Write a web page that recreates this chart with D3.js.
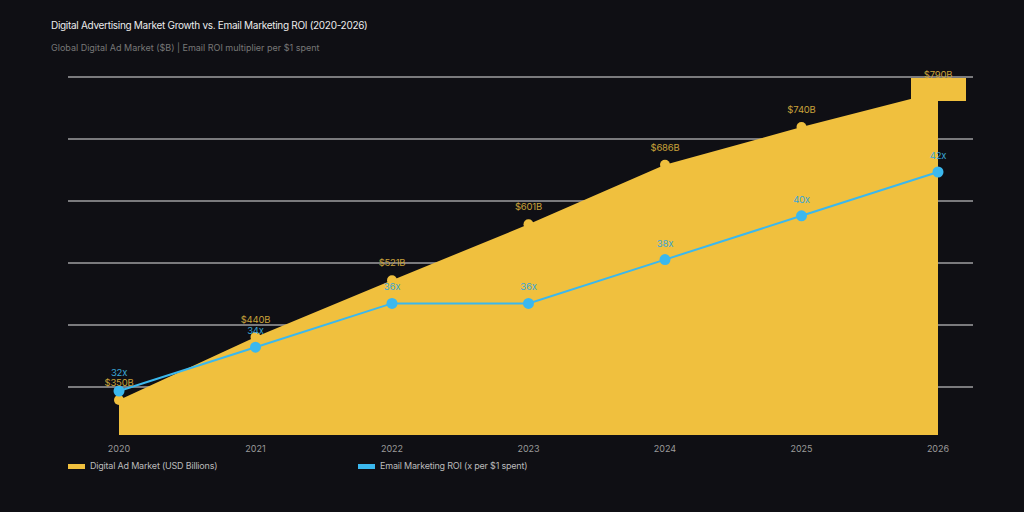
<!DOCTYPE html><html><head><meta charset="utf-8"><script src="https://cdn.jsdelivr.net/npm/d3@7"></script>
<style>body{margin:0;background:#0f0f14}</style></head><body><svg id="c" width="1024" height="512"></svg>
<script>
const years=["2020","2021","2022","2023","2024","2025","2026"];
const adMarket=[350,440,521,601,686,740,790];
const emailROI=[32,34,36,36,38,40,42];
const gridTicks=[1,2,3,4,5,6];
const svg=d3.select("#c"),F="Inter, 'DejaVu Sans', sans-serif";
svg.append("rect").attr("width",1024).attr("height",512).attr("fill","#0f0f14");
const x=d3.scalePoint().domain(years).range([119,938]);
const yA=d3.scaleLinear().domain([300,790]).range([435,92]);
const yR=d3.scaleLinear().domain([32,42]).range([391,172]);
const yG=d3.scaleLinear().domain([0,6]).range([449,77]);
svg.append("g").selectAll("line").data(gridTicks).join("line").attr("x1",68).attr("x2",973)
 .attr("y1",d=>yG(d)).attr("y2",d=>yG(d)).attr("stroke","#e6e6e6").attr("stroke-width",1);
const ad=years.map((y,i)=>({y,v:adMarket[i]}));
svg.append("path").datum(ad).attr("fill","#f0c03e")
 .attr("d",d3.area().x(d=>x(d.y)).y0(yA(300)).y1(d=>yA(d.v)));
svg.append("g").selectAll("circle").data(ad).join("circle").attr("cx",d=>x(d.y)).attr("cy",d=>yA(d.v)).attr("r",5).attr("fill","#f0c03e");
const roi=years.map((y,i)=>({y,v:emailROI[i]}));
svg.append("path").datum(roi).attr("fill","none").attr("stroke","#3bb8ee").attr("stroke-width",2)
 .attr("d",d3.line().x(d=>x(d.y)).y(d=>yR(d.v)));
svg.append("g").selectAll("circle").data(roi).join("circle").attr("cx",d=>x(d.y)).attr("cy",d=>yR(d.v)).attr("r",5.5).attr("fill","#3bb8ee");
const last=ad[ad.length-1];
svg.append("rect").attr("x",x(last.y)-27).attr("y",yA(last.v)-14).attr("width",55).attr("height",23).attr("fill","#f0c03e");
svg.append("g").selectAll("text").data(ad).join("text").attr("x",d=>x(d.y)).attr("y",d=>yA(d.v)-14)
 .attr("text-anchor","middle").attr("font-family",F).attr("font-size",9.5).attr("letter-spacing",-0.2).attr("fill","#c9a23a").text(d=>"$"+d.v+"B");
svg.append("g").selectAll("text").data(roi).join("text").attr("x",d=>x(d.y)).attr("y",(d,i)=>yR(d.v)-(i===0?15:13))
 .attr("text-anchor","middle").attr("font-family",F).attr("font-size",9.5).attr("letter-spacing",-0.2).attr("fill","#3aa6d6").text(d=>d.v+"x");
svg.append("g").selectAll("text").data(years).join("text").attr("x",d=>x(d)).attr("y",452)
 .attr("text-anchor","middle").attr("font-family",F).attr("font-size",9).attr("fill","#9a9a9a").text(d=>d);
svg.append("text").attr("x",51).attr("y",29).attr("font-family",F).attr("font-size",10).attr("letter-spacing",-0.3).attr("fill","#ececec").text("Digital Advertising Market Growth vs. Email Marketing ROI (2020-2026)");
svg.append("text").attr("x",51).attr("y",51).attr("font-family",F).attr("font-size",9).attr("fill","#777").text("Global Digital Ad Market ($B) | Email ROI multiplier per $1 spent");
const lg=[{t:"Digital Ad Market (USD Billions)",c:"#f0c03e",x:68},{t:"Email Marketing ROI (x per $1 spent)",c:"#3bb8ee",x:358}];
lg.forEach(l=>{svg.append("rect").attr("x",l.x).attr("y",464).attr("width",17).attr("height",5).attr("fill",l.c);
 svg.append("text").attr("x",l.x+22).attr("y",469).attr("font-family",F).attr("font-size",9).attr("letter-spacing",-0.2).attr("fill","#bbb").text(l.t);});
</script></body></html>
